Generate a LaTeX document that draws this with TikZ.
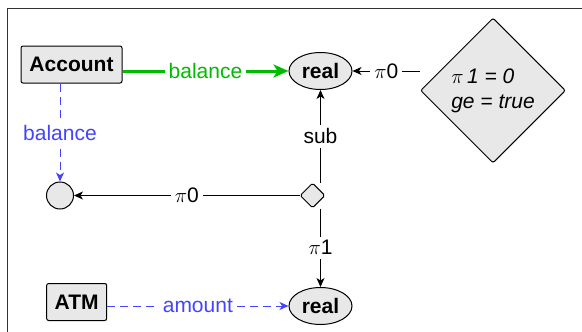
\documentclass[tikz,border=0pt]{standalone}
\usepackage{fontspec}
\setmainfont{Liberation Sans}
\usetikzlibrary{shapes.geometric,arrows.meta}
\definecolor{nodegray}{HTML}{E8E8E8}
\definecolor{myblue}{HTML}{4444FF}
\definecolor{mygreen}{HTML}{00BB00}
\begin{document}
\begin{tikzpicture}[x=1pt,y=-1pt,
  every node/.style={font=\fontsize{21}{25}\selectfont},
  box/.style={draw, rounded corners=2pt, fill=nodegray, font=\fontsize{21}{25}\selectfont\bfseries, line width=1pt, minimum height=37pt, inner sep=0pt},
  ell/.style={ellipse, draw, fill=nodegray, font=\fontsize{21}{25}\selectfont\bfseries, minimum width=63pt, minimum height=37pt, inner sep=0pt, line width=1pt},
  lab/.style={fill=white, inner sep=4pt},
  arr/.style={-{Stealth[length=9pt,width=8pt,inset=2.5pt]}, line width=1pt},
]
\useasboundingbox (0,0) rectangle (582,332);
\draw[line width=1.5pt, black!80] (7.5,332) -- (7.5,8.5) -- (582,8.5);

\node[box, minimum width=101pt] (acc) at (71.5,64.5) {Account};
\node[ell] (r1) at (320.5,71) {real};
\node[diamond, draw, fill=nodegray, minimum width=145pt, minimum height=145pt, inner sep=0pt, rounded corners=2pt, align=left, line width=1pt, font=\fontsize{21}{25}\selectfont\itshape] (cond) at (493,90.5) {$\pi$\,1 = 0\\ge = true};
\node[circle, draw, fill=nodegray, minimum size=27pt, inner sep=0pt, line width=1pt] (c) at (60,195.5) {};
\node[diamond, draw, fill=nodegray, minimum width=25pt, minimum height=25pt, inner sep=0pt, rounded corners=1.5pt, line width=1pt] (sd) at (312.5,195.5) {};
\node[box, minimum width=60pt] (atm) at (76.7,302) {ATM};
\node[ell] (r2) at (320.5,306) {real};

\draw[mygreen, line width=3pt, -{Stealth[length=15pt,width=13pt,inset=4pt]}] (acc.east |- r1.west) -- node[lab, text=mygreen]{balance} (r1.west);
\draw[arr] (r1.east -| cond.west) -- node[lab]{$\pi$0} (r1.east);
\draw[arr] (sd.west) -- node[lab]{$\pi$0} (c.east);
\draw[arr] (r1 |- sd.north) -- node[lab]{sub} (r1.south);
\draw[arr] (r2 |- sd.south) -- node[lab]{$\pi$1} (r2.north);
\draw[arr, myblue, dash pattern=on 8pt off 5pt] (c |- acc.south) -- node[lab, text=myblue]{balance} (c.north);
\draw[arr, myblue, dash pattern=on 8pt off 5pt] (atm.east |- r2.west) -- node[lab, text=myblue]{amount} (r2.west);
\end{tikzpicture}
\end{document}
